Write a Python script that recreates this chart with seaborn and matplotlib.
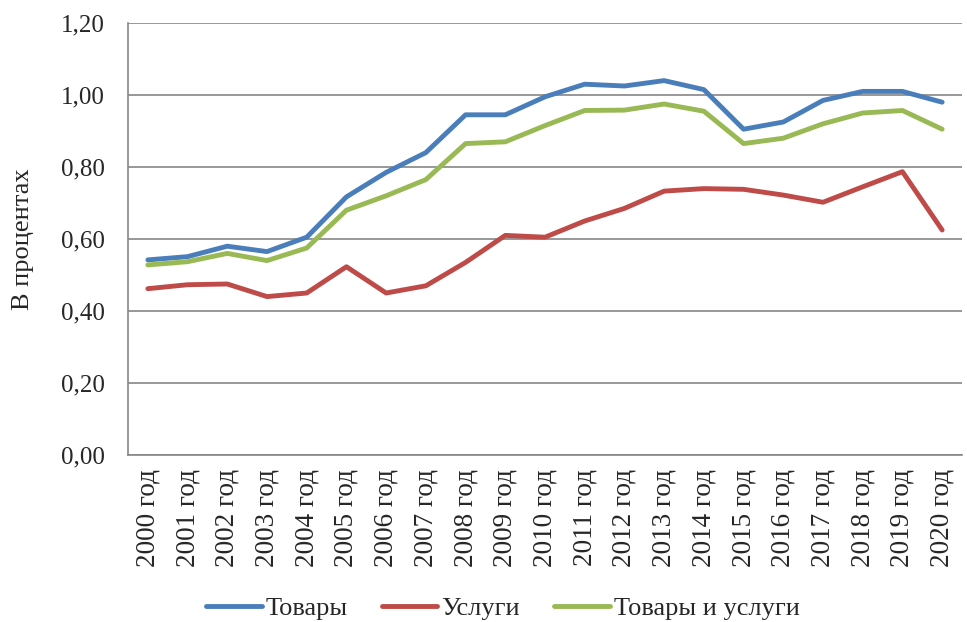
import matplotlib
matplotlib.use("Agg")
import matplotlib.pyplot as plt
import seaborn as sns
import pandas as pd
from matplotlib.ticker import FixedLocator, FuncFormatter

years = [f"{y} год" for y in range(2000, 2021)]
tovary = [0.542, 0.551, 0.580, 0.565, 0.605, 0.717, 0.785, 0.840, 0.945, 0.945,
          0.995, 1.030, 1.025, 1.040, 1.015, 0.905, 0.925, 0.985, 1.010, 1.010, 0.980]
uslugi = [0.462, 0.473, 0.475, 0.440, 0.450, 0.523, 0.450, 0.470, 0.535, 0.610,
          0.605, 0.650, 0.685, 0.733, 0.740, 0.738, 0.722, 0.702, 0.745, 0.787, 0.625]
tov_usl = [0.528, 0.537, 0.560, 0.540, 0.575, 0.680, 0.720, 0.765, 0.865, 0.870,
           0.915, 0.957, 0.958, 0.975, 0.955, 0.865, 0.880, 0.920, 0.950, 0.957, 0.905]
series_names = ["Товары", "Услуги", "Товары и услуги"]
colors = ["#4A7EBB", "#BE4B48", "#98B954"]

df = pd.concat([
    pd.DataFrame({"pos": range(len(years)), "value": vals, "series": name})
    for name, vals in zip(series_names, [tovary, uslugi, tov_usl])
])

sns.set_style("white")
plt.rcParams["font.family"] = ["Liberation Serif", "DejaVu Serif"]

fig = plt.figure(figsize=(9.67, 6.22), dpi=100)
ax = fig.add_axes([128/967, 1-455/622, (962-128)/967, (455-23)/622])

sns.lineplot(data=df, x="pos", y="value", hue="series", palette=colors,
             hue_order=series_names, linewidth=3.5, ax=ax, legend=False)

ax.set_xlim(-0.5, len(years) - 0.5)
ax.set_ylim(0, 1.2)
ax.set_yticks([0, 0.2, 0.4, 0.6, 0.8, 1.0, 1.2])
ax.yaxis.set_major_formatter(FuncFormatter(lambda v, p: f"{v:.2f}".replace(".", ",")))
ax.set_xticks(range(len(years)))
ax.set_xticklabels(years, rotation=90, fontsize=19.5)
ax.xaxis.set_minor_locator(FixedLocator([i - 0.5 for i in range(len(years) + 1)]))
ax.tick_params(axis="x", which="major", length=0, pad=10)
ax.tick_params(axis="x", which="minor", length=8, width=1, color="#868686", direction="out")
ax.tick_params(axis="y", length=7, width=1, color="#868686", direction="out", labelsize=18, pad=10)
ax.grid(axis="y", color="#868686", linewidth=1.2)
ax.set_axisbelow(True)
for s in ["top", "right"]:
    ax.spines[s].set_visible(False)
for s in ["left", "bottom"]:
    ax.spines[s].set_color("#868686")
    ax.spines[s].set_linewidth(1.2)
ax.set_xlabel("")
ax.set_ylabel("В процентах", fontsize=19, labelpad=19)

handles = [plt.Line2D([], [], color=c, linewidth=3.5) for c in colors]
fig.legend(handles, series_names, loc="lower center", ncol=3, frameon=False,
           bbox_to_anchor=(0.52, -0.035), fontsize=19, handlelength=2.1,
           handletextpad=0.15, columnspacing=1.3)

fig.savefig("out.png", dpi=100)
